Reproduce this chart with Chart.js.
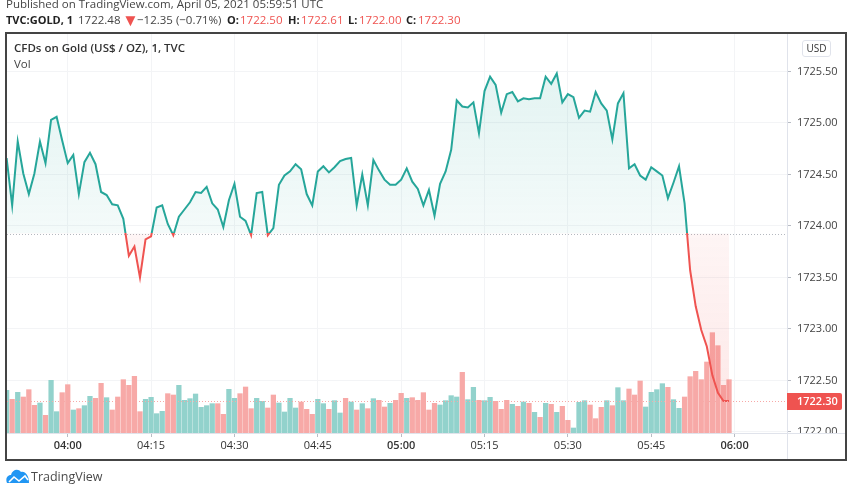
<!DOCTYPE html>
<html>
<head>
<meta charset="utf-8">
<script src="https://cdn.jsdelivr.net/npm/chart.js@4"></script>
<style>
  html, body { margin: 0; padding: 0; background: #fff; overflow: hidden; }
  body { width: 852px; height: 485px; position: relative; font-family: "Open Sans", sans-serif; color: #131722; }
  #chartBox { position: absolute; left: 0; top: 0; width: 852px; height: 485px; }
  #frame { position: absolute; left: 5px; top: 32px; width: 838px; height: 425px; border: 2px solid #444; pointer-events: none; }
  .label { position: absolute; white-space: nowrap; font-size: 11.5px; line-height: 14px; color: #444; }
  .row { top: 13px; }
  .key { font-weight: 700; font-size: 11px; color: #222; }
  .red { color: #ef5350; }
  #usd { position: absolute; left: 802px; top: 40px; width: 27px; height: 15px; border: 1px solid #e0e3eb; border-radius: 3px; font-size: 10px; line-height: 15px; text-align: center; color: #333; }
</style>
</head>
<body>
<div id="chartBox"><canvas id="goldChart" width="852" height="485"></canvas></div>
<div id="frame"></div>

<div class="label" style="left:6px;top:-3px">Published on TradingView.com, April 05, 2021 05:59:51 UTC</div>
<div class="label row key" style="left:6px">TVC:GOLD, 1</div>
<div class="label row" style="left:78px">1722.48</div>
<div class="label row red" style="left:122px;font-size:17px">▼</div>
<div class="label row" style="left:137px">−12.35 (−0.71%)</div>
<div class="label row key" style="left:227px">O:</div>
<div class="label row red" style="left:240px">1722.50</div>
<div class="label row key" style="left:288px">H:</div>
<div class="label row red" style="left:301px">1722.61</div>
<div class="label row key" style="left:348px">L:</div>
<div class="label row red" style="left:359px">1722.00</div>
<div class="label row key" style="left:406px">C:</div>
<div class="label row red" style="left:418px">1722.30</div>
<div class="label" style="left:14px;top:41px;font-weight:600;color:#333">CFDs on Gold (US$ / OZ), 1, TVC</div>
<div class="label" style="left:14px;top:57px">Vol</div>
<div id="usd">USD</div>

<svg style="position:absolute;left:6px;top:468px" width="24" height="16" viewBox="0 0 24 16">
  <path d="M1 15 C-1 10 2 7 5 7 C6 2 12 0 15 4 C19 3 23 7 23 15 Z" fill="#2196f3"/>
  <path d="M3 14 L8 9 L13 13 L19 8 L22 12" fill="none" stroke="#fff" stroke-width="1.6"/>
</svg>
<div class="label" style="left:31px;top:470px;font-size:12.5px;color:#4a4a4a">TradingView</div>

<script>
const firstMinute = 229; // 03:49
const baselinePrice = 1723.927;
const lastPrice = 1722.30;

const closePrices = [
  1724.66, 1724.20, 1724.82, 1724.51, 1724.31, 1724.51, 1724.82, 1724.61, 1725.03, 1725.06,
  1724.83, 1724.61, 1724.69, 1724.31, 1724.62, 1724.71, 1724.60, 1724.33, 1724.30, 1724.21,
  1724.20, 1724.07, 1723.71, 1723.80, 1723.50, 1723.87, 1723.90, 1724.18, 1724.20, 1724.02,
  1723.91, 1724.09, 1724.16, 1724.23, 1724.33, 1724.32, 1724.38, 1724.22, 1724.16, 1723.99,
  1724.25, 1724.41, 1724.09, 1724.05, 1723.91, 1724.32, 1724.33, 1723.91, 1723.98, 1724.40,
  1724.49, 1724.53, 1724.60, 1724.55, 1724.31, 1724.20, 1724.53, 1724.58, 1724.52, 1724.57,
  1724.63, 1724.65, 1724.66, 1724.20, 1724.50, 1724.20, 1724.64, 1724.54, 1724.45, 1724.40,
  1724.40, 1724.45, 1724.56, 1724.43, 1724.36, 1724.20, 1724.35, 1724.10, 1724.41, 1724.53,
  1724.74, 1725.22, 1725.16, 1725.15, 1725.20, 1724.90, 1725.31, 1725.45, 1725.37, 1725.10,
  1725.28, 1725.30, 1725.21, 1725.24, 1725.23, 1725.24, 1725.24, 1725.45, 1725.38, 1725.48,
  1725.20, 1725.28, 1725.25, 1725.05, 1725.12, 1725.11, 1725.30, 1725.19, 1725.12, 1724.84,
  1725.19, 1725.29, 1724.56, 1724.60, 1724.49, 1724.45, 1724.57, 1724.53, 1724.49, 1724.27,
  1724.42, 1724.58, 1724.22, 1723.57, 1723.22, 1722.99, 1722.83, 1722.55, 1722.38, 1722.30,
  1722.30
];

const volumes = [
  128, 101, 122, 108, 130, 83, 90, 53, 158, 64,
  121, 145, 69, 73, 82, 110, 104, 149, 106, 69,
  108, 160, 143, 170, 64, 101, 107, 58, 65, 118,
  114, 143, 98, 103, 117, 77, 82, 88, 88, 56,
  131, 104, 118, 138, 73, 104, 95, 75, 114, 90,
  63, 104, 75, 93, 71, 56, 101, 88, 71, 97,
  60, 104, 93, 69, 88, 73, 103, 98, 78, 89,
  98, 119, 104, 106, 98, 121, 69, 89, 84, 97,
  112, 108, 182, 100, 137, 98, 97, 107, 95, 71,
  98, 86, 80, 93, 89, 62, 47, 89, 86, 62,
  80, 38, 15, 92, 97, 84, 43, 77, 97, 82,
  136, 97, 132, 114, 156, 78, 122, 130, 148, 137,
  100, 74, 108, 169, 185, 160, 213, 301, 262, 143,
  160
];

const volumeUp = [
  1, 0, 1, 0, 0, 0, 1, 0, 1, 1,
  0, 0, 1, 0, 1, 1, 0, 0, 1, 0,
  0, 0, 0, 0, 0, 1, 1, 1, 1, 0,
  0, 1, 1, 1, 1, 1, 1, 1, 0, 0,
  1, 1, 0, 0, 0, 1, 1, 0, 0, 1,
  1, 1, 1, 0, 0, 0, 1, 1, 0, 1,
  1, 0, 1, 0, 1, 0, 1, 0, 0, 1,
  0, 0, 1, 0, 0, 0, 0, 0, 1, 1,
  1, 1, 0, 1, 1, 0, 1, 1, 0, 0,
  0, 1, 0, 1, 0, 1, 0, 1, 0, 1,
  0, 0, 1, 1, 1, 0, 0, 0, 1, 0,
  1, 1, 0, 0, 0, 1, 1, 1, 1, 0,
  1, 1, 0, 0, 0, 0, 0, 0, 0, 0,
  0
];

const greenLine = "#26a69a";
const redLine = "#ef5350";
const textColor = "#444";
const gridColor = "#f3f4f6";
const axisColor = "#e0e3eb";

function formatMinute(value) {
  const hours = Math.floor(value / 60);
  const minutes = value % 60;
  return `${String(hours).padStart(2, "0")}:${String(minutes).padStart(2, "0")}`;
}

function getLineColor(context) {
  const { chart } = context;
  if (!chart.chartArea) {
    return greenLine;
  }
  const { top, bottom } = chart.chartArea;
  const split = (chart.scales.y.getPixelForValue(baselinePrice) - top) / (bottom - top);
  const gradient = chart.ctx.createLinearGradient(0, top, 0, bottom);
  gradient.addColorStop(0, greenLine);
  gradient.addColorStop(split, greenLine);
  gradient.addColorStop(split, redLine);
  gradient.addColorStop(1, redLine);
  return gradient;
}

function getAreaFill(context) {
  const { chart } = context;
  if (!chart.chartArea) {
    return { target: { value: baselinePrice } };
  }
  const yScale = chart.scales.y;
  const basePixel = yScale.getPixelForValue(baselinePrice);
  const above = chart.ctx.createLinearGradient(0, yScale.getPixelForValue(1725.5), 0, basePixel);
  above.addColorStop(0, "rgba(38, 166, 154, 0.13)");
  above.addColorStop(1, "rgba(38, 166, 154, 0.05)");
  const below = chart.ctx.createLinearGradient(0, basePixel, 0, yScale.getPixelForValue(lastPrice));
  below.addColorStop(0, "rgba(239, 83, 80, 0.06)");
  below.addColorStop(1, "rgba(239, 83, 80, 0.13)");
  return { target: { value: baselinePrice }, above, below };
}

function drawDottedLine(ctx, fromX, toX, y, color) {
  ctx.save();
  ctx.strokeStyle = color;
  ctx.lineWidth = 1;
  ctx.setLineDash([1, 2]);
  ctx.beginPath();
  ctx.moveTo(fromX, y + 0.5);
  ctx.lineTo(toX, y + 0.5);
  ctx.stroke();
  ctx.restore();
}

const chartFurniture = {
  id: "chartFurniture",
  beforeDatasetsDraw(chart) {
    const { ctx, chartArea } = chart;
    // price axis labels stop at the time axis
    ctx.fillStyle = "#fff";
    ctx.fillRect(chartArea.right + 1, chartArea.bottom, 60, 26);
    drawDottedLine(ctx, chartArea.left, chartArea.right, Math.round(chart.scales.y.getPixelForValue(baselinePrice)), "#b4b8bf");
  },
  afterDatasetsDraw(chart) {
    const { ctx, chartArea } = chart;
    const priceY = Math.round(chart.scales.y.getPixelForValue(lastPrice));
    drawDottedLine(ctx, chartArea.left, chartArea.right, priceY, "#f7a9a7");

    ctx.strokeStyle = axisColor;
    ctx.lineWidth = 1;
    ctx.beginPath();
    ctx.moveTo(chartArea.left, chartArea.bottom + 0.5);
    ctx.lineTo(chartArea.right + 60, chartArea.bottom + 0.5);
    ctx.moveTo(chartArea.right + 0.5, chartArea.top);
    ctx.lineTo(chartArea.right + 0.5, chartArea.bottom + 26);
    ctx.stroke();

    ctx.fillStyle = redLine;
    ctx.beginPath();
    ctx.roundRect(chartArea.right, priceY - 8, 55, 17, [0, 2, 2, 0]);
    ctx.fill();
    ctx.fillStyle = "#fff";
    ctx.font = "600 11px 'Open Sans'";
    ctx.textAlign = "left";
    ctx.textBaseline = "middle";
    ctx.fillText(lastPrice.toFixed(2), chartArea.right + 10, priceY + 1);
  }
};

function drawGoldChart() {
  const minutes = closePrices.map((_, index) => firstMinute + index);

  new Chart(document.getElementById("goldChart"), {
    data: {
      datasets: [
        {
          type: "line",
          data: minutes.map((minute, index) => ({ x: minute, y: closePrices[index] })),
          yAxisID: "y",
          order: 0,
          borderWidth: 2,
          borderColor: getLineColor,
          fill: getAreaFill,
          pointRadius: 0,
          tension: 0
        },
        {
          type: "bar",
          data: minutes.map((minute, index) => ({ x: minute, y: volumes[index] })),
          yAxisID: "yVolume",
          order: 1,
          barThickness: 4.6,
          backgroundColor: volumeUp.map((up) => (up ? "#92d2cc" : "#f7a9a7"))
        }
      ]
    },
    options: {
      responsive: false,
      animation: false,
      devicePixelRatio: 1,
      layout: { padding: { left: 7, top: 34, right: 6, bottom: 26 } },
      plugins: { legend: { display: false }, tooltip: { enabled: false } },
      scales: {
        x: {
          type: "linear",
          offset: false,
          min: 229.07,
          max: 369.43,
          afterFit: (scale) => { scale.height = 26; },
          border: { display: false },
          grid: { offset: false, color: gridColor, tickColor: "#b8bcc4", tickLength: 4 },
          ticks: {
            stepSize: 15,
            includeBounds: false,
            maxRotation: 0,
            autoSkip: false,
            padding: 2,
            color: "#333",
            font: (context) => ({
              family: "Open Sans",
              size: 11,
              weight: context.tick && context.tick.value % 60 === 0 ? "600" : "400"
            }),
            callback: (value) => formatMinute(value)
          }
        },
        y: {
          position: "right",
          min: 1721.99,
          max: 1725.864,
          afterFit: (scale) => { scale.width = 59; },
          border: { display: false },
          grid: { color: gridColor, tickColor: "#b8bcc4", tickLength: 4 },
          ticks: {
            stepSize: 0.5,
            includeBounds: false,
            padding: 6,
            color: textColor,
            font: { family: "Open Sans", size: 11 },
            callback: (value) => value.toFixed(2)
          }
        },
        yVolume: {
          display: false,
          min: 0,
          max: 1197
        }
      }
    },
    plugins: [chartFurniture]
  });
}

drawGoldChart();
</script>
</body>
</html>
